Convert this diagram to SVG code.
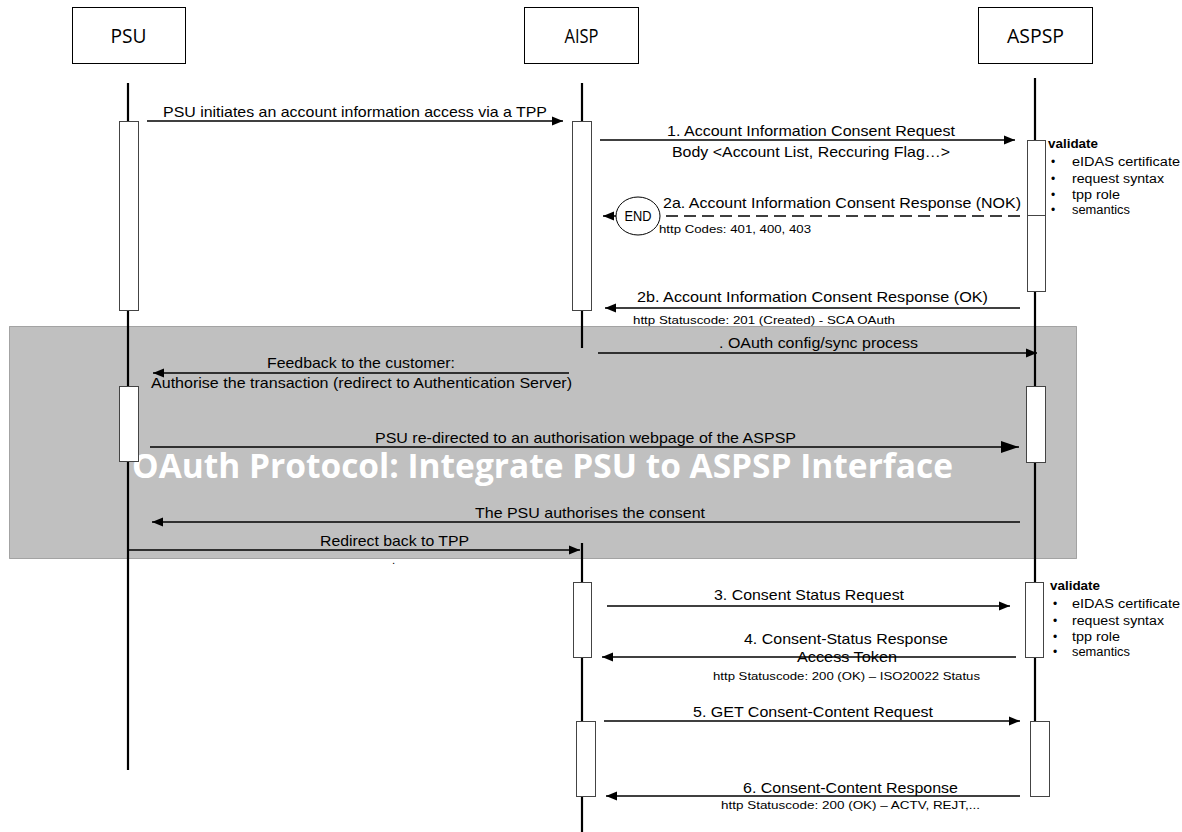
<svg xmlns="http://www.w3.org/2000/svg" width="1182" height="832" viewBox="0 0 1182 832">
<defs>
<marker id="ah" markerWidth="12" markerHeight="10" refX="11" refY="5" orient="auto" markerUnits="userSpaceOnUse"><path d="M0,0.5 L11,5 L0,9.5 z" fill="#000"/></marker>
<marker id="ahb" markerWidth="19" markerHeight="12" refX="18" refY="6" orient="auto" markerUnits="userSpaceOnUse"><path d="M0,0 L18,6 L0,12 z" fill="#000"/></marker>
</defs>
<style>
.hdr{fill:#fff;stroke:#000;stroke-width:1}
.hl{font-family:"Open Sans","Liberation Sans",sans-serif;font-size:20px;fill:#000}
.life{stroke:#000;stroke-width:2.2;fill:none}
.bar{fill:#fff;stroke:#444;stroke-width:1}
.msg{stroke:#000;stroke-width:1.5;fill:none;marker-end:url(#ah)}
.t{font-family:"Liberation Sans",Arial,sans-serif;font-size:15px;fill:#000}
.s{font-family:"Liberation Sans",Arial,sans-serif;font-size:11.5px;fill:#000}
.v{font-family:"Liberation Sans",Arial,sans-serif;font-size:12px;fill:#000}
.vb{font-family:"Liberation Sans",Arial,sans-serif;font-size:12px;font-weight:bold;fill:#000}
</style>
<rect width="1182" height="832" fill="#fff"/>

<g id="oauth-frame">
<rect x="9.5" y="326.5" width="1067" height="232" fill="#c0c0c0" stroke="#666" stroke-width="1" stroke-dasharray="1,1"/>
<text x="132" y="478" textLength="821" lengthAdjust="spacingAndGlyphs" font-family="'Open Sans','Liberation Sans',sans-serif" font-size="34" font-weight="bold" fill="#fff">OAuth Protocol: Integrate PSU to ASPSP Interface</text>
</g>

<g id="PSU">
<rect class="hdr" x="72.5" y="7.5" width="113" height="56"/>
<text class="hl" x="128.5" y="43" text-anchor="middle" textLength="36" lengthAdjust="spacingAndGlyphs">PSU</text>
<line class="life" x1="128" y1="83" x2="128" y2="770"/>
<rect class="bar" x="119.5" y="121.5" width="19" height="189"/>
<rect class="bar" x="119.5" y="386.5" width="19" height="75"/>
</g>

<g id="AISP">
<rect class="hdr" x="524.5" y="7.5" width="114" height="56"/>
<text class="hl" x="581.5" y="43" text-anchor="middle" textLength="34" lengthAdjust="spacingAndGlyphs">AISP</text>
<line class="life" x1="582" y1="83" x2="582" y2="348"/>
<line class="life" x1="582" y1="543" x2="582" y2="832"/>
<rect class="bar" x="572.5" y="121.5" width="19" height="189"/>
<rect class="bar" x="573.5" y="582.5" width="18" height="75"/>
<rect class="bar" x="576.5" y="721.5" width="19" height="75"/>
</g>

<g id="ASPSP">
<rect class="hdr" x="978.5" y="7.5" width="114" height="56"/>
<text class="hl" x="1035.5" y="43" text-anchor="middle" textLength="57" lengthAdjust="spacingAndGlyphs">ASPSP</text>
<line class="life" x1="1035" y1="78" x2="1035" y2="722"/>
<rect class="bar" x="1027.5" y="140.5" width="18" height="151"/>
<line x1="1027.5" y1="215.5" x2="1045.5" y2="215.5" stroke="#444" stroke-width="1"/>
<rect class="bar" x="1026.5" y="386.5" width="19" height="76"/>
<rect class="bar" x="1025.5" y="582.5" width="18" height="75"/>
<rect class="bar" x="1030.5" y="721.5" width="19" height="75"/>
</g>

<g id="validate-1">
<text class="vb" x="1048" y="148" textLength="50" lengthAdjust="spacingAndGlyphs">validate</text>
<text class="v" x="1051" y="166">•</text><text class="v" x="1072" y="166" textLength="108" lengthAdjust="spacingAndGlyphs">eIDAS certificate</text>
<text class="v" x="1051" y="183">•</text><text class="v" x="1072" y="183" textLength="92" lengthAdjust="spacingAndGlyphs">request syntax</text>
<text class="v" x="1051" y="199">•</text><text class="v" x="1072" y="199" textLength="48" lengthAdjust="spacingAndGlyphs">tpp role</text>
<text class="v" x="1051" y="214">•</text><text class="v" x="1072" y="214" textLength="58" lengthAdjust="spacingAndGlyphs">semantics</text>
</g>

<g id="validate-2">
<text class="vb" x="1050" y="590" textLength="50" lengthAdjust="spacingAndGlyphs">validate</text>
<text class="v" x="1053" y="608">•</text><text class="v" x="1072" y="608" textLength="108" lengthAdjust="spacingAndGlyphs">eIDAS certificate</text>
<text class="v" x="1053" y="625">•</text><text class="v" x="1072" y="625" textLength="92" lengthAdjust="spacingAndGlyphs">request syntax</text>
<text class="v" x="1053" y="641">•</text><text class="v" x="1072" y="641" textLength="48" lengthAdjust="spacingAndGlyphs">tpp role</text>
<text class="v" x="1053" y="656">•</text><text class="v" x="1072" y="656" textLength="58" lengthAdjust="spacingAndGlyphs">semantics</text>
</g>

<g id="END">
<ellipse cx="638" cy="216" rx="22" ry="19" fill="#fff" stroke="#000" stroke-width="1"/>
<text class="t" x="638" y="221" text-anchor="middle" font-size="14" textLength="27" lengthAdjust="spacingAndGlyphs">END</text>
</g>

<g id="connectors">
<line class="msg" x1="147" y1="121" x2="563" y2="121"/>
<text class="t" x="163" y="117" textLength="384" lengthAdjust="spacingAndGlyphs">PSU initiates an account information access via a TPP</text>

<line class="msg" x1="600" y1="140" x2="1015" y2="140"/>
<text class="t" x="667" y="136" textLength="288" lengthAdjust="spacingAndGlyphs">1. Account Information Consent Request</text>
<text class="t" x="672" y="157" textLength="278" lengthAdjust="spacingAndGlyphs">Body &lt;Account List, Reccuring Flag…&gt;</text>

<line x1="1020" y1="216" x2="661" y2="216" stroke="#000" stroke-width="1.5" stroke-dasharray="12,6"/>
<line class="msg" x1="616" y1="216" x2="603" y2="216"/>
<text class="t" x="663" y="208" textLength="358" lengthAdjust="spacingAndGlyphs">2a. Account Information Consent Response (NOK)</text>
<text class="s" x="659" y="233" textLength="152" lengthAdjust="spacingAndGlyphs">http Codes: 401, 400, 403</text>

<line class="msg" x1="1020" y1="308" x2="605" y2="308"/>
<text class="t" x="637" y="302" textLength="351" lengthAdjust="spacingAndGlyphs">2b. Account Information Consent  Response (OK)</text>
<text class="s" x="633" y="324" textLength="262" lengthAdjust="spacingAndGlyphs">http Statuscode: 201 (Created) - SCA OAuth</text>

<line class="msg" x1="598" y1="353" x2="1037" y2="353"/>
<text class="t" x="719" y="348" textLength="199" lengthAdjust="spacingAndGlyphs">. OAuth config/sync process</text>

<line class="msg" x1="569" y1="373" x2="153" y2="373"/>
<text class="t" x="267" y="368" textLength="188" lengthAdjust="spacingAndGlyphs">Feedback to the customer:</text>
<text class="t" x="151" y="388" textLength="421" lengthAdjust="spacingAndGlyphs">Authorise the transaction (redirect to Authentication Server)</text>

<line x1="150" y1="447" x2="1019" y2="447" stroke="#000" stroke-width="1.5" marker-end="url(#ahb)"/>
<text class="t" x="375" y="443" textLength="421" lengthAdjust="spacingAndGlyphs">PSU re-directed to an authorisation webpage of the ASPSP</text>

<line class="msg" x1="1020" y1="522" x2="152" y2="522"/>
<text class="t" x="475" y="518" textLength="230" lengthAdjust="spacingAndGlyphs">The PSU authorises the consent</text>

<line class="msg" x1="128" y1="550" x2="580" y2="550"/>
<text class="t" x="320" y="546" textLength="149" lengthAdjust="spacingAndGlyphs">Redirect back to TPP</text>
<text class="s" x="392" y="564">.</text>

<line class="msg" x1="607" y1="606" x2="1010" y2="606"/>
<text class="t" x="714" y="600" textLength="190" lengthAdjust="spacingAndGlyphs">3. Consent Status Request</text>

<line class="msg" x1="1016" y1="657" x2="602" y2="657"/>
<text class="t" x="744" y="644" textLength="204" lengthAdjust="spacingAndGlyphs">4. Consent-Status Response</text>
<text class="t" x="797" y="662" textLength="100" lengthAdjust="spacingAndGlyphs">Access Token</text>
<text class="s" x="713" y="680" textLength="267" lengthAdjust="spacingAndGlyphs">http Statuscode: 200 (OK) – ISO20022 Status</text>

<line class="msg" x1="604" y1="721" x2="1020" y2="721"/>
<text class="t" x="693" y="717" textLength="240" lengthAdjust="spacingAndGlyphs">5. GET Consent-Content Request</text>

<line class="msg" x1="1020" y1="796" x2="606" y2="796"/>
<text class="t" x="743" y="793" textLength="215" lengthAdjust="spacingAndGlyphs">6. Consent-Content Response</text>
<text class="s" x="721" y="809" textLength="259" lengthAdjust="spacingAndGlyphs">http Statuscode: 200 (OK) – ACTV, REJT,...</text>
</g>
</svg>
